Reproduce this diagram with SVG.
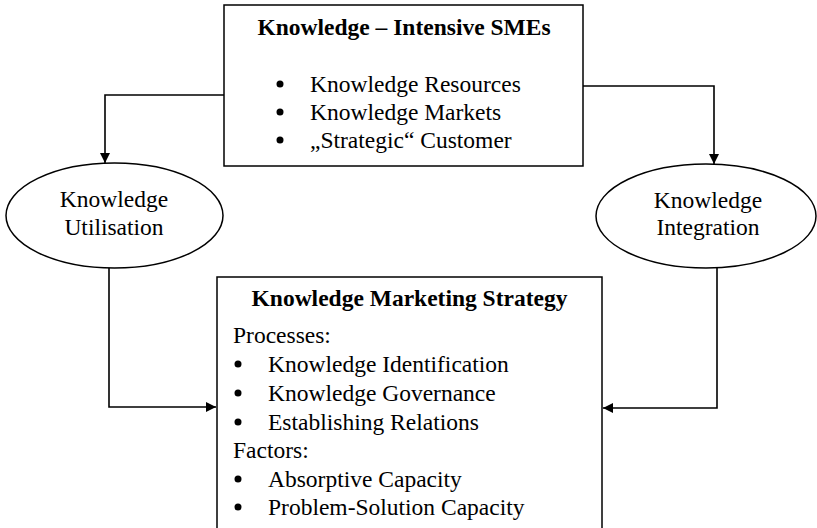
<svg xmlns="http://www.w3.org/2000/svg" width="817" height="528" viewBox="0 0 817 528">
<style>
.box{fill:#fff;stroke:#000;stroke-width:1.5}
.t{font-family:"Liberation Serif","Times New Roman",serif;font-size:23.5px;fill:#000}
.b{font-weight:bold}
.c{text-anchor:middle}
.ln{fill:none;stroke:#000;stroke-width:1.6}
</style>
<defs>
<marker id="ah" viewBox="0 0 10 10" refX="10" refY="5" markerWidth="10" markerHeight="10" markerUnits="userSpaceOnUse" orient="auto">
<path d="M0,0 L10,5 L0,10 z" fill="#000"/>
</marker>
</defs>
<rect width="817" height="528" fill="#fff"/>
<g id="connectors">
<polyline class="ln" points="224,95 105,95 105,163" marker-end="url(#ah)"/>
<polyline class="ln" points="583,86 714,86 714,164" marker-end="url(#ah)"/>
<polyline class="ln" points="109,268 109,407 216,407" marker-end="url(#ah)"/>
<polyline class="ln" points="717,268 717,408 603,408" marker-end="url(#ah)"/>
</g>
<g id="sme">
<rect class="box" x="224" y="5" width="359" height="161"/>
<text class="t b c" x="404" y="35">Knowledge – Intensive SMEs</text>
<circle cx="280" cy="84" r="3.5"/>
<circle cx="280" cy="112" r="3.5"/>
<circle cx="280" cy="140" r="3.5"/>
<text class="t" x="310" y="92">Knowledge Resources</text>
<text class="t" x="310" y="120">Knowledge Markets</text>
<text class="t" x="310" y="148">„Strategic“ Customer</text>
</g>
<g id="utilisation">
<ellipse class="box" cx="114.5" cy="215.5" rx="108.5" ry="52.5"/>
<text class="t c" x="114" y="207">Knowledge</text>
<text class="t c" x="114" y="235">Utilisation</text>
</g>
<g id="integration">
<ellipse class="box" cx="706" cy="216" rx="110" ry="52"/>
<text class="t c" x="708" y="208">Knowledge</text>
<text class="t c" x="708" y="235">Integration</text>
</g>
<g id="strategy">
<rect class="box" x="217" y="277" width="385" height="270"/>
<text class="t b c" x="409.5" y="306">Knowledge Marketing Strategy</text>
<text class="t" x="233" y="343">Processes:</text>
<circle cx="238" cy="364" r="3.5"/>
<circle cx="238" cy="393" r="3.5"/>
<circle cx="238" cy="422" r="3.5"/>
<text class="t" x="268" y="372">Knowledge Identification</text>
<text class="t" x="268" y="401">Knowledge Governance</text>
<text class="t" x="268" y="430">Establishing Relations</text>
<text class="t" x="233" y="458">Factors:</text>
<circle cx="238" cy="479" r="3.5"/>
<circle cx="238" cy="507" r="3.5"/>
<text class="t" x="268" y="487">Absorptive Capacity</text>
<text class="t" x="268" y="515">Problem-Solution Capacity</text>
</g>
</svg>
